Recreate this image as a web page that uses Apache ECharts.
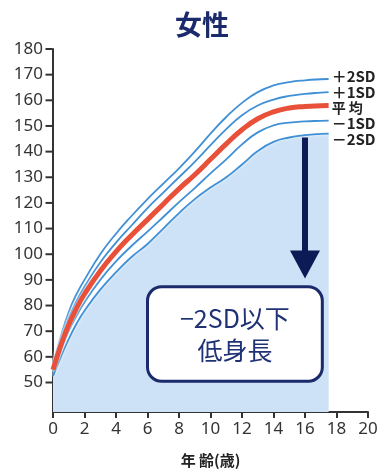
<!DOCTYPE html>
<html>
<head>
<meta charset="utf-8">
<script src="https://cdn.jsdelivr.net/npm/echarts@6/dist/echarts.min.js"></script>
<style>
html,body{margin:0;padding:0;background:#fff;}
#c{width:385px;height:473px;}
</style>
</head>
<body>
<div id="c"></div>
<script>
// ---- data ----
const ages   = [0, 0.5, 1, 1.5, 2, 3, 4, 5, 6, 7, 8, 9, 10, 11, 12, 13, 14, 15, 16, 17, 17.5];
const plus2  = [57, 68, 77.5, 84.5, 90, 100, 108, 115, 121.5, 127.5, 133.5, 140, 147, 153.5, 159, 163.2, 165.8, 167.1, 167.8, 168.2, 168.3];
const plus1  = [56, 66.3, 75, 81.8, 87.3, 96.8, 104.5, 111.3, 118, 124, 130, 136, 142.5, 148.8, 154.2, 158, 160.3, 161.7, 162.5, 163, 163.2];
const mean   = [55, 64.5, 72.5, 79, 84.5, 93.5, 101, 107.5, 113.5, 119.5, 125.5, 131, 137, 143, 148.5, 152.8, 155.5, 157, 157.6, 157.9, 158];
const minus1 = [54, 62.5, 70, 76, 81.3, 90, 97.2, 103.3, 108.8, 114.5, 120.3, 125.8, 131.5, 137, 142.8, 147.5, 150.2, 151.3, 151.8, 152, 152.1];
const minus2 = [52.5, 60, 67, 73, 78, 86.2, 93, 99, 104, 110, 116, 121.5, 126, 130, 135, 140.2, 143.8, 145.5, 146.4, 146.9, 147];
const seriesNames = ['＋2SD', '＋1SD', '平 均', '－1SD', '－2SD'];
const xTicks = [0, 2, 4, 6, 8, 10, 12, 14, 16, 18, 20];
const yTicks = [50, 60, 70, 80, 90, 100, 110, 120, 130, 140, 150, 160, 170, 180];
const titleText = '女性';
const xAxisName = '年 齢(歳)';
const boxLines = ['−2SD以下', '低身長'];
// annotation anchors (data coordinates)
const arrowAt = {x: 16, top: 145.5, tip: 90.5};
const boxAt = {x0: 6, x1: 17.1, y0: 50.5, y1: 87.3};

const pairs = arr => ages.map((a, i) => [a, arr[i]]);
const FONT = '"Noto Sans", "Noto Sans CJK JP", sans-serif';
const JP = '"Noto Sans CJK JP", "Noto Sans", sans-serif';
const NAVY = '#1b2a6b';
const BLUE = '#3f90d6';
const RED = '#e8503a';
const FILL = '#cde2f6';
const AXIS = '#333';

const chart = echarts.init(document.getElementById('c'), null, {renderer: 'canvas'});

function blueLine(name, data, off) {
  return {
    name, type: 'line', data: pairs(data), smooth: 0.5, symbol: 'none', z: 4,
    lineStyle: {color: BLUE, width: 1.8, shadowColor: '#ffffff', shadowBlur: 3},
    endLabel: {show: true, formatter: name, color: '#222', fontSize: 15, fontWeight: 'bold',
      fontFamily: JP, distance: 3, offset: [0, off]}
  };
}

const option = {
  animation: false,
  backgroundColor: '#fff',
  grid: {left: 53, right: 17, top: 49, bottom: 56},
  xAxis: {
    type: 'value', min: 0, max: 20, interval: 2,
    name: xAxisName, nameLocation: 'middle', nameGap: 41,
    nameTextStyle: {fontSize: 15, fontWeight: 'bold', color: '#222', fontFamily: JP},
    axisLine: {show: true, lineStyle: {color: AXIS, width: 2}},
    axisTick: {show: true, length: 6, lineStyle: {color: AXIS, width: 2}},
    axisLabel: {color: '#333', fontSize: 17, fontFamily: FONT, margin: 9,
      customValues: xTicks},
    splitLine: {show: false}
  },
  yAxis: {
    type: 'value', min: 38.5, max: 180,
    axisLine: {show: true, lineStyle: {color: AXIS, width: 2}},
    axisTick: {show: false},
    axisLabel: {color: '#333', fontSize: 17, fontFamily: FONT, margin: 10, customValues: yTicks},
    splitLine: {show: false}
  },
  series: [
    {
      name: 'fill', type: 'line', data: pairs(minus2), smooth: 0.5, symbol: 'none', z: 1,
      lineStyle: {width: 0}, areaStyle: {color: FILL, opacity: 1, origin: 'start'}, silent: true
    },
    blueLine(seriesNames[0], plus2, -3),
    blueLine(seriesNames[1], plus1, 0),
    {
      name: seriesNames[2], type: 'line', data: pairs(mean), smooth: 0.5, symbol: 'none', z: 5,
      lineStyle: {color: RED, width: 5, shadowColor: '#ffffff', shadowBlur: 3},
      endLabel: {show: true, formatter: seriesNames[2], color: '#222', fontSize: 14, fontWeight: 'bold',
        fontFamily: JP, distance: 3, offset: [0, 2]}
    },
    blueLine(seriesNames[3], minus1, 3),
    blueLine(seriesNames[4], minus2, 6),
    {
      name: 'yticks', type: 'scatter', data: yTicks.map(v => [0, v]), symbol: 'rect',
      symbolSize: [7, 2], symbolOffset: [-4, 0], clip: false, silent: true, z: 20,
      itemStyle: {color: AXIS, opacity: 1}
    }
  ]
};
chart.setOption(option);

function drawAnnotations() {
  const p = v => chart.convertToPixel({gridIndex: 0}, v);
  const top = p([arrowAt.x, arrowAt.top]);
  const tip = p([arrowAt.x, arrowAt.tip]);
  const headLen = 28, headHalf = 15, shaft = 6;
  const b0 = p([boxAt.x0, boxAt.y1]);
  const b1 = p([boxAt.x1, boxAt.y0]);
  const cx = (b0[0] + b1[0]) / 2, cy = (b0[1] + b1[1]) / 2;
  const elems = [
    {type: 'text', style: {text: titleText, x: 202, y: 25, align: 'center',
      verticalAlign: 'middle', fontSize: 27, fontWeight: 'bold', fill: NAVY, fontFamily: JP}},
    {type: 'rect', z: 10, shape: {x: top[0] - shaft / 2, y: top[1], width: shaft, height: tip[1] - top[1] - headLen + 2},
      style: {fill: '#0c1a55'}},
    {type: 'polygon', z: 10, shape: {points: [[tip[0] - headHalf, tip[1] - headLen], [tip[0] + headHalf, tip[1] - headLen], [tip[0], tip[1]]]},
      style: {fill: '#0c1a55'}},
    {type: 'rect', z: 10, shape: {x: b0[0], y: b0[1], width: b1[0] - b0[0], height: b1[1] - b0[1], r: 14},
      style: {fill: '#fff', stroke: NAVY, lineWidth: 3}},
    {type: 'text', z: 11, style: {text: boxLines[0], x: cx, y: cy - 16, align: 'center', verticalAlign: 'middle',
      fontSize: 25, fill: '#1f3275', fontFamily: JP}},
    {type: 'text', z: 11, style: {text: boxLines[1], x: cx, y: cy + 16, align: 'center', verticalAlign: 'middle',
      fontSize: 25, fill: '#1f3275', fontFamily: JP}}
  ];
  chart.setOption({graphic: elems});
}
drawAnnotations();
</script>
</body>
</html>
